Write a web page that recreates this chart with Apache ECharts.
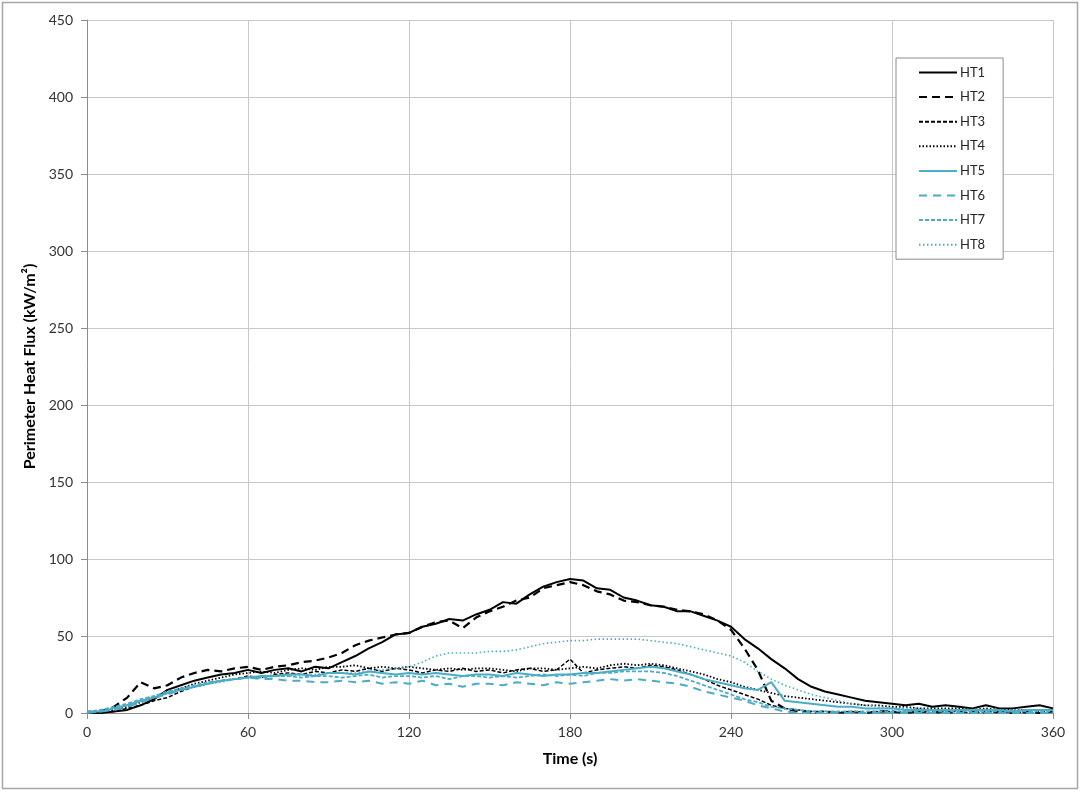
<!DOCTYPE html>
<html>
<head>
<meta charset="utf-8">
<script src="https://cdn.jsdelivr.net/npm/echarts@6/dist/echarts.min.js"></script>
<style>html,body{margin:0;padding:0;background:#fff;}#c{width:1083px;height:796px;}</style>
</head>
<body>
<div id="c"></div>
<script>
const times = [0,5,10,15,20,25,30,35,40,45,50,55,60,65,70,75,80,85,90,95,100,105,110,115,120,125,130,135,140,145,150,155,160,165,170,175,180,185,190,195,200,205,210,215,220,225,230,235,240,245,250,255,260,265,270,275,280,285,290,295,300,305,310,315,320,325,330,335,340,345,350,355,360];
const xTicks = [0,60,120,180,240,300,360];
const yTicks = [0,50,100,150,200,250,300,350,400,450];
const names = ['HT1','HT2','HT3','HT4','HT5','HT6','HT7','HT8'];
const HT1 = [0,0,1,2,5,9,15,18,21,23, 25,26,28,26,28,29,27,30,29,33, 37,42,46,51,52,56,58,61,60,64, 67,72,71,77,82,85,87,86,81,80, 75,73,70,69,66,66,63,60,56,48, 42,35,29,22,17,14,12,10,8,7, 6,5,6,4,5,4,3,5,3,3, 4,5,3];
const HT2 = [0,1,4,10,20,16,18,23,26,28, 27,29,30,28,30,31,33,34,36,39, 44,47,49,51,52,56,59,60,55,62, 66,69,73,75,81,83,85,83,79,77, 73,72,70,69,67,66,64,60,54,42, 28,8,3,1,0,1,0,1,0,1, 1,0,1,1,0,1,1,0,1,0, 1,0,1];
const HT3 = [0,0,1,3,5,8,10,14,17,19, 21,22,24,23,25,26,25,27,26,28, 27,29,27,29,28,26,28,27,29,27, 28,26,28,29,27,28,35,26,28,29, 30,29,31,30,28,25,22,18,15,12, 9,5,3,2,1,1,0,1,0,1, 1,0,1,0,1,1,0,1,0,1, 0,1,1];
const HT4 = [0,1,2,4,7,10,13,16,19,21, 23,25,26,27,26,28,29,28,30,30, 31,29,30,29,30,29,28,29,28,29, 29,28,27,29,29,28,29,30,29,31, 32,31,32,31,29,27,25,22,20,17, 15,13,11,10,9,8,7,6,5,5, 4,4,3,3,3,3,2,3,2,2, 2,2,2];
const HT5 = [1,1,3,5,8,10,13,15,17,19, 21,22,23,24,24,25,25,24,26,26, 25,27,26,25,26,25,26,25,24,25, 25,24,26,25,24,25,25,26,26,27, 28,29,30,29,27,25,22,20,18,16, 15,20,8,7,6,5,4,4,3,3, 3,2,2,2,2,2,2,2,2,1, 2,2,2];
const HT6 = [0,1,2,4,7,10,12,15,17,19, 21,22,23,22,22,21,21,20,20,21, 20,21,19,20,19,21,18,19,17,19, 19,18,20,19,18,20,19,20,21,22, 21,22,21,20,19,17,14,12,10,8, 5,3,1,0,0,0,0,0,0,0, 0,0,0,0,0,0,0,0,0,0, 0,0,0];
const HT7 = [1,2,4,6,9,11,14,16,18,20, 21,22,23,23,24,24,23,24,24,23, 24,25,23,24,24,23,24,22,24,24, 23,24,23,24,25,24,25,24,26,26, 27,27,27,26,24,21,18,15,12,9, 7,4,3,2,1,1,1,1,1,1, 1,1,1,1,1,1,1,1,1,1, 1,1,1];
const HT8 = [0,1,3,5,8,11,13,15,17,19, 20,22,23,23,24,24,25,25,26,26, 26,27,28,29,30,33,37,39,39,39, 40,40,41,43,45,46,47,47,48,48, 48,48,47,46,45,43,41,39,37,33, 27,22,18,15,12,10,8,6,5,4, 3,3,3,2,2,2,2,2,2,2, 2,2,2];

const values = [HT1,HT2,HT3,HT4,HT5,HT6,HT7,HT8];
const BLACK = '#000000', BLUE = '#4bacc6';
const styles = [
  {color: BLACK, width: 2, type: 'solid'},
  {color: BLACK, width: 2.2, type: [8,5]},
  {color: BLACK, width: 1.5, type: [4,2]},
  {color: BLACK, width: 1.8, type: [1.5,2]},
  {color: BLUE, width: 2, type: 'solid'},
  {color: BLUE, width: 2, type: [8,6]},
  {color: BLUE, width: 1.8, type: [4,2]},
  {color: BLUE, width: 1.6, type: [1.5,2.5]}
];
const FONT = 'Lato, "Open Sans", sans-serif';
const series = names.map((n, i) => ({
  name: n,
  type: 'line',
  showSymbol: false,
  symbol: 'none',
  animation: false,
  color: styles[i].color,
  lineStyle: {color: styles[i].color, width: styles[i].width, type: styles[i].type},
  data: times.map((t, k) => [t, values[i][k]])
}));

const chart = echarts.init(document.getElementById('c'));
chart.setOption({
  backgroundColor: '#fff',
  animation: false,
  textStyle: {fontFamily: FONT},
  graphic: [{
    type: 'rect', shape: {x: 2.5, y: 2.5, width: 1075, height: 786},
    style: {fill: 'none', stroke: '#a6a6a6', lineWidth: 1.5}, z: -1
  }],
  grid: {left: 87, right: 30, top: 20, bottom: 83},
  legend: {
    orient: 'vertical', left: 896, top: 58, width: 112,
    data: names, align: 'left',
    itemWidth: 38, itemHeight: 14, itemGap: 11.6,
    padding: [8, 18, 8, 22],
    itemStyle: {opacity: 0},
    borderColor: '#8c8c8c', borderWidth: 1, backgroundColor: '#fff',
    textStyle: {fontFamily: FONT, fontSize: 13, color: '#262626', padding: [0,0,0,-2]}
  },
  xAxis: {
    type: 'value', min: 0, max: 360, interval: 60,
    name: 'Time (s)', nameLocation: 'middle', nameGap: 38,
    nameTextStyle: {fontFamily: FONT, fontWeight: 'bold', fontSize: 16, color: '#000'},
    axisLine: {show: true, lineStyle: {color: '#8c8c8c', width: 1}},
    axisTick: {show: true, length: 6, lineStyle: {color: '#8c8c8c'}},
    axisLabel: {fontFamily: FONT, fontSize: 14, color: '#333', margin: 12,
      formatter: v => xTicks.includes(v) ? String(v) : ''},
    splitLine: {show: true, lineStyle: {color: '#c8c8c8', width: 1}}
  },
  yAxis: {
    type: 'value', min: 0, max: 450, interval: 50,
    name: 'Perimeter Heat Flux (kW/m²)', nameLocation: 'middle', nameGap: 47,
    nameTextStyle: {fontFamily: FONT, fontWeight: 'bold', fontSize: 16, color: '#000'},
    axisLine: {show: true, lineStyle: {color: '#8c8c8c', width: 1}},
    axisTick: {show: true, length: 6, lineStyle: {color: '#8c8c8c'}},
    axisLabel: {fontFamily: FONT, fontSize: 14, color: '#333', margin: 14,
      formatter: v => yTicks.includes(v) ? String(v) : ''},
    splitLine: {show: true, lineStyle: {color: '#c8c8c8', width: 1}}
  },
  series: series
});
</script>
</body>
</html>
